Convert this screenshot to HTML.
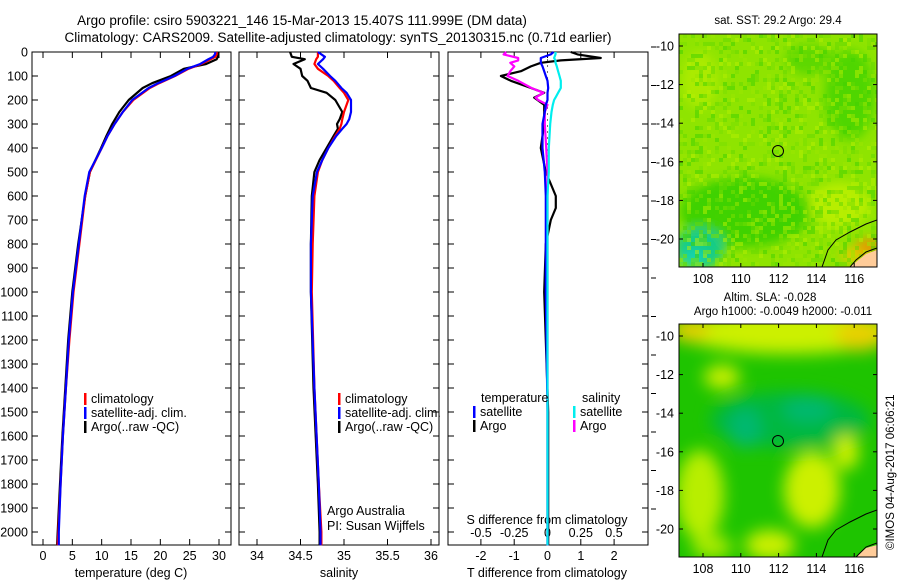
<!DOCTYPE html>
<html><head><meta charset="utf-8"><style>
html,body{margin:0;padding:0;background:#fff;}
svg{display:block;font-family:"Liberation Sans",sans-serif;}
</style></head><body>
<svg id="c" width="900" height="580" viewBox="0 0 900 580" xmlns="http://www.w3.org/2000/svg">
<defs>
<filter id="bl" x="-50%" y="-50%" width="200%" height="200%"><feGaussianBlur stdDeviation="8"/></filter>
<filter id="bl2" x="-50%" y="-50%" width="200%" height="200%"><feGaussianBlur stdDeviation="5"/></filter>
<clipPath id="m1"><rect x="679" y="34" width="198" height="233"/></clipPath>
<clipPath id="m2"><rect x="679" y="324" width="198" height="233"/></clipPath>
</defs>
<text x="302" y="25" font-size="13.5" text-anchor="middle">Argo profile: csiro 5903221_146 15-Mar-2013 15.407S 111.999E (DM data)</text>
<text x="338" y="42" font-size="13.5" text-anchor="middle">Climatology: CARS2009. Satellite-adjusted climatology: synTS_20130315.nc (0.71d earlier)</text>
<g id="plots"></g>
<!-- top map -->
<g clip-path="url(#m1)">
<rect x="679" y="34" width="198" height="233" fill="#8fe400"/>
<g filter="url(#bl2)" opacity="0.85">
<ellipse cx="850" cy="95" rx="25" ry="45" fill="#44d400"/>
<ellipse cx="810" cy="60" rx="25" ry="15" fill="#55d600"/>
<ellipse cx="700" cy="80" rx="18" ry="28" fill="#b0ec00"/>
<ellipse cx="745" cy="212" rx="65" ry="35" fill="#33cf00"/>
<ellipse cx="840" cy="205" rx="30" ry="22" fill="#bff000"/>
<ellipse cx="700" cy="248" rx="24" ry="20" fill="#00c8a0"/>
<ellipse cx="694" cy="258" rx="12" ry="9" fill="#00d0d0"/>
<ellipse cx="868" cy="248" rx="13" ry="10" fill="#f09000"/>
<ellipse cx="852" cy="255" rx="12" ry="7" fill="#f0c800"/>
</g>
<g id="noise"></g>
<path d="M877 262 L877 250 L866 254 L856 262 L850 267 L877 267 Z" fill="#ffcc99"/>
<path d="M850 267 L856 260 L866 252 L877 248" fill="none" stroke="#000" stroke-width="1"/>
<path d="M822 267 L828 250 L836 240 L850 232 L866 224 L877 220" fill="none" stroke="#000" stroke-width="1"/>
</g>
<rect x="679" y="34" width="198" height="233" fill="none" stroke="#000"/>
<circle cx="778" cy="151" r="5.5" fill="none" stroke="#000"/>
<text x="778" y="24" font-size="11.5" text-anchor="middle">sat. SST: 29.2 Argo: 29.4</text>
<!-- bottom map -->
<g clip-path="url(#m2)">
<rect x="679" y="324" width="198" height="233" fill="#1ec400"/>
<g filter="url(#bl)">
<ellipse cx="790" cy="332" rx="110" ry="22" fill="#ccf000"/>
<ellipse cx="860" cy="335" rx="25" ry="16" fill="#e8d000"/>
<ellipse cx="690" cy="330" rx="20" ry="12" fill="#e8d000"/>
<ellipse cx="722" cy="377" rx="18" ry="12" fill="#ccf000"/>
<ellipse cx="790" cy="420" rx="80" ry="28" fill="#00b840"/>
<ellipse cx="745" cy="428" rx="16" ry="20" fill="#00b870"/>
<ellipse cx="808" cy="410" rx="25" ry="12" fill="#00b870"/>
<ellipse cx="700" cy="495" rx="24" ry="45" fill="#b8ee00"/>
<ellipse cx="812" cy="490" rx="28" ry="38" fill="#ccf000"/>
<ellipse cx="846" cy="452" rx="13" ry="18" fill="#ccf000"/>
<ellipse cx="770" cy="545" rx="25" ry="15" fill="#ccf000"/>
<ellipse cx="712" cy="547" rx="20" ry="12" fill="#a8ea00"/>
</g>
<path d="M877 545 L866 548 L856 557 L877 557 Z" fill="#ffcc99"/>
<path d="M856 557 L866 547 L877 543" fill="none" stroke="#000"/>
<path d="M822 557 L828 540 L836 530 L850 522 L866 514 L877 510" fill="none" stroke="#000"/>
</g>
<rect x="679" y="324" width="198" height="233" fill="none" stroke="#000"/>
<circle cx="778" cy="441" r="5.5" fill="none" stroke="#000"/>
<text x="770" y="301" font-size="11.5" text-anchor="middle">Altim. SLA: -0.028</text>
<text x="783" y="315" font-size="11.5" text-anchor="middle">Argo h1000: -0.0049 h2000: -0.011</text>
<text transform="translate(894,550) rotate(-90)" font-size="11.5">©IMOS 04-Aug-2017 06:06:21</text>
<g id="maxes"></g>
</svg>
<script>
// ---- data ----
const depthT = [0,10,20,30,50,70,100,130,150,200,250,300,350,400,500,600,700,800,1000,1200,1400,1600,1800,2000,2055];
const tempClim = [29.6,29.6,29.4,28.6,27.0,24.8,22.5,19.8,18.2,15.4,13.6,12.2,11.0,10.0,8.0,7.2,6.7,6.2,5.2,4.5,3.9,3.4,3.0,2.6,2.5];
const tempSat  = [29.4,29.3,29.0,28.2,26.8,24.6,22.4,19.6,18.0,15.2,13.6,12.2,11.0,10.0,7.9,7.1,6.6,6.1,5.1,4.4,3.9,3.4,3.0,2.7,2.7];
const tempArgo = [29.8,29.9,29.8,29.6,27.8,24.0,21.8,18.6,17.0,14.6,13.0,11.8,10.8,9.9,8.0,7.2,6.6,6.0,5.0,4.3,3.8,3.3,2.9,2.5,2.4];
const depthS = [0,20,30,50,70,100,120,150,170,200,250,280,300,320,350,400,450,500,600,800,1000,1400,1800,2000,2055];
const salClim = [34.70,34.70,34.68,34.66,34.70,34.82,34.88,34.95,35.00,35.05,35.00,34.98,34.97,34.95,34.90,34.82,34.75,34.70,34.66,34.64,34.63,34.66,34.71,34.74,34.74];
const salSat  = [34.70,34.78,34.76,34.70,34.76,34.84,34.90,34.97,35.03,35.08,35.08,35.06,35.03,34.98,34.91,34.82,34.75,34.69,34.64,34.62,34.62,34.66,34.71,34.73,34.73];
const salArgo = [34.38,34.40,34.55,34.42,34.50,34.52,34.58,34.62,34.80,34.90,34.98,34.95,34.92,34.93,34.88,34.80,34.72,34.66,34.63,34.62,34.62,34.65,34.70,34.72,34.72];
const depthD = [0,10,25,35,45,60,80,100,120,150,170,190,200,220,250,300,400,500,600,650,700,800,1000,1500,2000,2055];
const tdSat  = [0.18,0.1,-0.2,-0.2,-0.2,-0.15,-0.1,-0.05,0.0,0.02,0.0,0.0,0.0,-0.05,-0.08,-0.15,-0.15,-0.08,-0.05,-0.05,-0.05,-0.05,-0.05,0.0,0.0,0.0];
const tdArgo = [0.7,0.9,1.6,0.4,-0.2,-0.5,-0.8,-1.4,-1.1,-0.5,-0.1,-0.4,-0.3,-0.1,-0.1,-0.1,-0.2,-0.05,0.25,0.25,0.1,-0.05,-0.1,0.02,0.02,0.02];
const sdSat  = [0.06,0.06,0.05,0.06,0.06,0.07,0.08,0.09,0.1,0.1,0.08,0.06,0.05,0.04,0.03,0.02,0.01,0.01,0.0,0.0,0.0,0.0,0.0,0.0,0.0,0.0];
const sdArgo = [-0.31,-0.33,-0.22,-0.22,-0.28,-0.25,-0.28,-0.3,-0.22,-0.12,-0.03,-0.09,-0.07,0.0,-0.02,-0.02,-0.01,0.0,0.0,0.0,0.0,0.0,0.0,0.0,0.0,0.0];
const depthTicks = [0,100,200,300,400,500,600,700,800,900,1000,1100,1200,1300,1400,1500,1600,1700,1800,1900,2000];
const tempTicks = [0,5,10,15,20,25,30];
const salTicks = [34,34.5,35,35.5,36];
const tdTicks = [-2,-1,0,1,2];
const sdTicks = [-0.5,-0.25,0,0.25,0.5];
const latTicks = [-10,-12,-14,-16,-18,-20];
const lonTicks = [108,110,112,114,116];

const NS="http://www.w3.org/2000/svg";
const svg=document.getElementById('plots');
function el(t,a,p){const e=document.createElementNS(NS,t);for(const k in a)e.setAttribute(k,a[k]);(p||svg).appendChild(e);return e;}
// mottled texture for SST map (deterministic hash)
(function(){
  const g=document.getElementById('noise');
  const cols=['#66d900','#9ae600','#44d200','#b5ee00','#7adf00'];
  for(let j=0;j<58;j++)for(let i=0;i<50;i++){
    const h=Math.abs(Math.sin(i*12.9898+j*78.233)*43758.5453)%1;
    if(h<0.55)continue;
    const c=cols[Math.floor(((h-0.55)/0.45)*cols.length)%cols.length];
    el('rect',{x:679+i*4,y:34+j*4,width:4,height:4,fill:c,opacity:0.55},g);
  }
})();
const Y=d=>52+d*0.24;
const xT=v=>43+v*(176/30);
const xS=v=>257+(v-34)*87;
const xTD=v=>547.5+v*33.3;
const xSD=v=>547.5+v*133;
const TOP=52,BOT=545;
const panels=[[32,231],[239,439],[448,648]];
panels.forEach((p,i)=>{
  const r=el('rect',{x:p[0],y:TOP,width:p[1]-p[0],height:BOT-TOP,fill:'none',stroke:'#000'});
  
  
  depthTicks.forEach(d=>{
    el('line',{x1:p[0],x2:p[0]+6,y1:Y(d),y2:Y(d),stroke:'#000'});
    el('line',{x1:p[1],x2:p[1]-6,y1:Y(d),y2:Y(d),stroke:'#000'});
  });
});
depthTicks.forEach(d=>{
  const t=el('text',{x:28,y:Y(d)+4.5,'font-size':12.5,'text-anchor':'end'});
  t.textContent=d;
  
  
});
function xticks(arr,fx){
  arr.forEach(v=>{
    const x=fx(v);
    el('line',{x1:x,x2:x,y1:TOP,y2:TOP+6,stroke:'#000'});
    el('line',{x1:x,x2:x,y1:BOT,y2:BOT-6,stroke:'#000'});
    const t=el('text',{x:x,y:560,'font-size':12.5,'text-anchor':'middle'});
    t.textContent=v;
    
    
  });
}
xticks(tempTicks,xT);xticks(salTicks,xS);xticks(tdTicks,xTD);
sdTicks.forEach(v=>{
  const t=el('text',{x:xSD(v),y:537,'font-size':12.5,'text-anchor':'middle'});
  t.textContent=v;
  
  
});
function lbl(x,y,s,name,anchor){const t=el('text',{x:x,y:y,'font-size':12.5,'text-anchor':anchor||'middle'});t.textContent=s;
  
  return t;}
lbl(131,577,'temperature (deg C)','x-axis-title-temperature');
lbl(339,577,'salinity','x-axis-title-salinity');
lbl(547,577,'T difference from climatology','x-axis-title-t-diff');
lbl(547,524,'S difference from climatology','x-axis-title-s-diff');
for(let y=47;y<=535;y+=38.5){el('line',{x1:651,x2:656,y1:y,y2:y,stroke:'#000'});}
for(let y=60;y<540;y+=6){el('circle',{cx:547.5,cy:y,r:0.6,fill:'#000'});}
function line(ds,vs,fx,color,name,w){
  const pts=ds.map((d,i)=>fx(vs[i]).toFixed(1)+','+Y(d).toFixed(1)).join(' ');
  const p=el('polyline',{points:pts,fill:'none',stroke:color,'stroke-width':w||2.2,'stroke-linejoin':'round'});
  
  
}
line(depthT,tempArgo,xT,'#000','temp-argo-line');
line(depthT,tempClim,xT,'#f00','temp-climatology-line');
line(depthT,tempSat,xT,'#00f','temp-satellite-line');
line(depthS,salArgo,xS,'#000','sal-argo-line');
line(depthS,salClim,xS,'#f00','sal-climatology-line');
line(depthS,salSat,xS,'#00f','sal-satellite-line');
line(depthD,tdArgo,xTD,'#000','tdiff-argo-line');
line(depthD,sdArgo,xSD,'#f0f','sdiff-argo-line');
line(depthD,tdSat,xTD,'#00f','tdiff-satellite-line');
line(depthD,sdSat,xSD,'#0ee','sdiff-satellite-line');
function leg(x,y,c,s,name){
  const r=el('rect',{x:x,y:y-10,width:2.5,height:12,fill:c});
  
  
  lbl(x+7,y,s,name,'start');
}
leg(84,403,'#f00','climatology','legend-climatology');
leg(84,417,'#00f','satellite-adj. clim.','legend-satellite-adj');
leg(84,431,'#000','Argo(..raw -QC)','legend-argo');
leg(338,403,'#f00','climatology','legend-sal-climatology');
leg(338,417,'#00f','satellite-adj. clim.','legend-sal-satellite-adj');
leg(338,431,'#000','Argo(..raw -QC)','legend-sal-argo');
lbl(481,402,'temperature','legend-temperature-heading','start');
lbl(582,402,'salinity','legend-salinity-heading','start');
leg(473,416,'#00f','satellite','legend-t-satellite');
leg(473,430,'#000','Argo','legend-t-argo');
leg(573,416,'#0ee','satellite','legend-s-satellite');
leg(573,430,'#f0f','Argo','legend-s-argo');
lbl(327,515,'Argo Australia','credit-argo-australia','start');
lbl(327,530,'PI: Susan Wijffels','credit-pi','start');
const mx=document.getElementById('maxes');
const lonX=v=>703+(v-108)*18.9;
[[34,267],[324,557]].forEach((b,k)=>{
  const latY=v=>b[0]+12+(-10-v)*19.3;
  latTicks.forEach(v=>{
    el('line',{x1:679,x2:683,y1:latY(v),y2:latY(v),stroke:'#000'},mx);
    el('line',{x1:877,x2:873,y1:latY(v),y2:latY(v),stroke:'#000'},mx);
    const t=el('text',{x:674,y:latY(v)+4.5,'font-size':12.5,'text-anchor':'end'},mx);t.textContent=v;
    
    
  });
  lonTicks.forEach(v=>{
    el('line',{x1:lonX(v),x2:lonX(v),y1:b[0],y2:b[0]+4,stroke:'#000'},mx);
    el('line',{x1:lonX(v),x2:lonX(v),y1:b[1],y2:b[1]-4,stroke:'#000'},mx);
    const t=el('text',{x:lonX(v),y:b[1]+16,'font-size':12.5,'text-anchor':'middle'},mx);t.textContent=v;
    
    
  });
});
</script>
</body></html>
